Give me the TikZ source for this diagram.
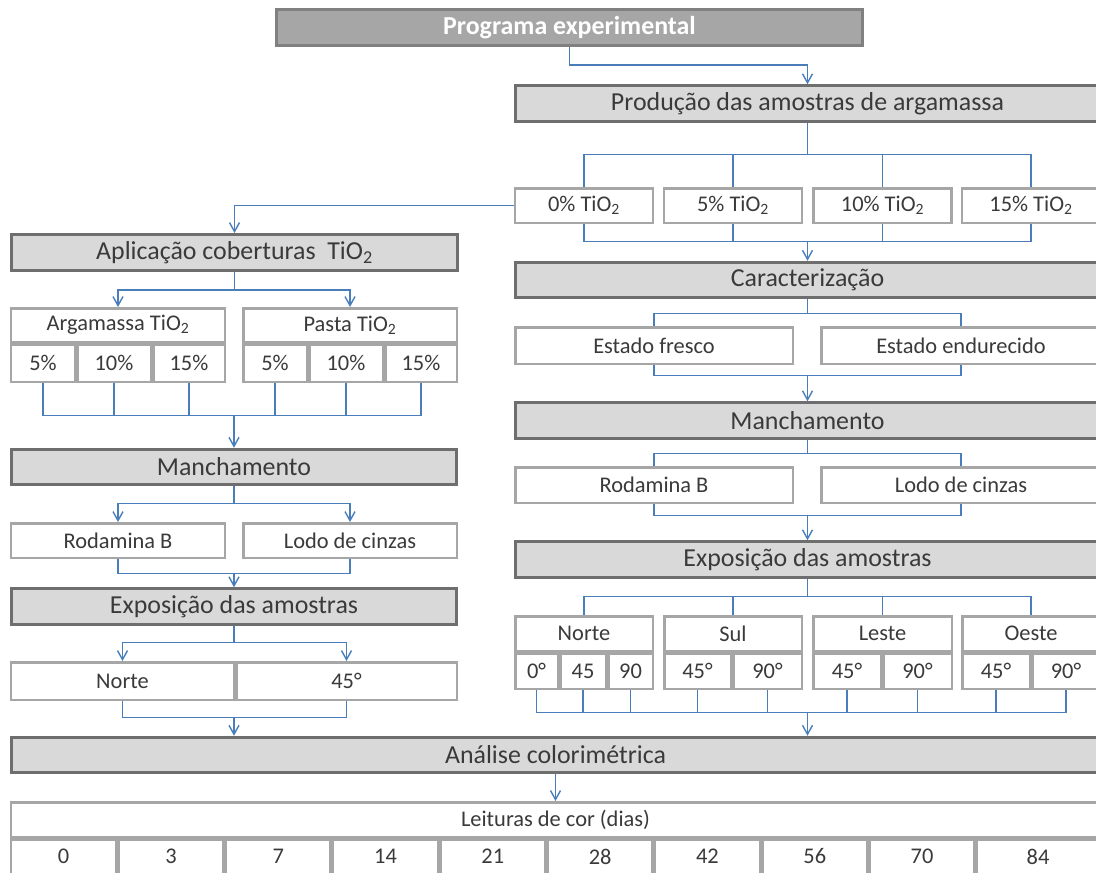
\documentclass[tikz,border=0pt]{standalone}
\usepackage{fontspec}
\setmainfont{Carlito}
\usepackage{tikz}
\usetikzlibrary{arrows.meta}
\definecolor{titlefill}{HTML}{A6A6A6}
\definecolor{titleline}{HTML}{808080}
\definecolor{stagefill}{HTML}{D9D9D9}
\definecolor{stageline}{HTML}{6E6E6E}
\definecolor{itemline}{HTML}{A6A6A6}
\definecolor{linkblue}{HTML}{4A7EBB}
\definecolor{textgrey}{HTML}{3A3A3A}
\tikzset{
  title/.style={draw=titleline, fill=titlefill, line width=3bp, text=white,
    font=\bfseries\fontsize{26}{31}\selectfont, inner sep=0pt, minimum height=36bp},
  stage/.style={draw=stageline, fill=stagefill, line width=3bp, text=textgrey,
    font=\fontsize{26}{31}\selectfont, inner sep=0pt, minimum height=35.5bp},
  item/.style={draw=itemline, fill=white, line width=2.5bp, text=textgrey,
    font=\fontsize{22.5}{27}\selectfont, inner sep=0pt},
  link/.style={draw=linkblue, line width=1.1bp},
  flow/.style={line width=1.4bp, -{Straight Barb[length=9bp,width=10bp]}}
}

\begin{document}
\begin{tikzpicture}[x=1bp, y=-1bp]
\useasboundingbox (0,0) rectangle (1096,873);

% top
\node[title, minimum width=586bp] (prog) at (569.5,27.5) {Programa experimental};

% right column
\node[stage, minimum width=584bp] (prod) at (807.5,103.5) {Produção das amostras de argamassa};
\node[item, minimum width=138bp, minimum height=34.5bp] (p0) at (584,205.5) {0\% TiO\textsubscript{2}};
\node[item, minimum width=138bp, minimum height=34.5bp] (p5) at (733,205.5) {5\% TiO\textsubscript{2}};
\node[item, minimum width=138bp, minimum height=34.5bp] (p10) at (882.5,205.5) {10\% TiO\textsubscript{2}};
\node[item, minimum width=138bp, minimum height=34.5bp] (p15) at (1031,205.5) {15\% TiO\textsubscript{2}};
\node[stage, minimum width=584bp] (carac) at (807.5,280) {Caracterização};
\node[item, minimum width=277.5bp, minimum height=36.5bp] (fres) at (654,345.5) {Estado fresco};
\node[item, minimum width=279.5bp, minimum height=36.5bp] (endu) at (961,345.5) {Estado endurecido};
\node[stage, minimum width=584bp] (manR) at (807.5,420.5) {Manchamento};
\node[item, minimum width=277.5bp, minimum height=35.5bp] (rodR) at (654,485) {Rodamina B};
\node[item, minimum width=279.5bp, minimum height=35.5bp] (lodR) at (961,485) {Lodo de cinzas};
\node[stage, minimum width=584bp] (expR) at (807.5,559.5) {Exposição das amostras};

\node[item, minimum width=137.5bp, minimum height=34.5bp] (norR) at (584,633.5) {Norte};
\node[item, minimum width=42.5bp, minimum height=35.5bp] (n0) at (536.5,671) {0°};
\node[item, minimum width=45.5bp, minimum height=35.5bp] (n45) at (583,671) {45};
\node[item, minimum width=44.5bp, minimum height=35.5bp] (n90) at (630.5,671) {90};
\node[item, minimum width=137.5bp, minimum height=34.5bp] (sulR) at (733,633.5) {Sul};
\node[item, minimum width=66.5bp, minimum height=35.5bp] (s45) at (697.5,671) {45°};
\node[item, minimum width=68.5bp, minimum height=35.5bp] (s90) at (767.5,671) {90°};
\node[item, minimum width=138.5bp, minimum height=34.5bp] (lesR) at (882.5,633.5) {Leste};
\node[item, minimum width=67.5bp, minimum height=35.5bp] (l45) at (847,671) {45°};
\node[item, minimum width=68.5bp, minimum height=35.5bp] (l90) at (917.5,671) {90°};
\node[item, minimum width=137.5bp, minimum height=34.5bp] (oesR) at (1031,633.5) {Oeste};
\node[item, minimum width=67.5bp, minimum height=35.5bp] (o45) at (996,671) {45°};
\node[item, minimum width=67.5bp, minimum height=35.5bp] (o90) at (1066,671) {90°};

% left column
\node[stage, minimum width=446bp, minimum height=36bp] (apl) at (234.5,252.5) {Aplicação coberturas~ TiO\textsubscript{2}};
\node[item, minimum width=213.5bp, minimum height=33.5bp] (argH) at (118,325) {Argamassa TiO\textsubscript{2}};
\node[item, minimum width=63.5bp, minimum height=37.5bp] (a5) at (43,363) {5\%};
\node[item, minimum width=73.5bp, minimum height=37.5bp] (a10) at (114,363) {10\%};
\node[item, minimum width=71.5bp, minimum height=37.5bp] (a15) at (189,363) {15\%};
\node[item, minimum width=213.5bp, minimum height=33.5bp] (pasH) at (350,325) {Pasta TiO\textsubscript{2}};
\node[item, minimum width=63.5bp, minimum height=37.5bp] (b5) at (275,363) {5\%};
\node[item, minimum width=73.5bp, minimum height=37.5bp] (b10) at (346,363) {10\%};
\node[item, minimum width=71.5bp, minimum height=37.5bp] (b15) at (421,363) {15\%};
\node[stage, minimum width=445.5bp] (manL) at (234,467) {Manchamento};
\node[item, minimum width=213.5bp, minimum height=34.5bp] (rodL) at (118,540.5) {Rodamina B};
\node[item, minimum width=213.5bp, minimum height=34.5bp] (lodL) at (350,540.5) {Lodo de cinzas};
\node[stage, minimum width=445.5bp] (expL) at (234,606.5) {Exposição das amostras};
\node[item, minimum width=222.5bp, minimum height=37.5bp] (norL) at (122.5,681) {Norte};
\node[item, minimum width=220.5bp, minimum height=37.5bp] (graL) at (346.5,681) {45°};

% bottom
\node[stage, minimum width=1088.5bp] (anal) at (555.5,755) {Análise colorimétrica};
\node[item, minimum width=1088.5bp, minimum height=34.5bp] (tab) at (555.5,819.5) {Leituras de cor (dias)};
\foreach \v [count=\i from 0] in {0,3,7,14,21,28,42,56,70}
  \node[item, minimum width=104.8bp, minimum height=34.5bp] (d\v) at ({63.65+107.3*\i},856.5) {\v};
\node[item, minimum width=123.5bp, minimum height=34.5bp] (d84) at (1038,856.5) {84};

% connectors, right
\draw[link, flow] (prog.south) -- ++(0,18) -| (prod.north);
\draw[link] (prod.south) -- ++(0,32) coordinate (jp);
\foreach \n in {p0,p5,p10,p15} \draw[link] (jp) -| (\n.north);
\path (carac.north) ++(0,-19) coordinate (jc);
\foreach \n in {p0,p5,p10,p15} \draw[link] (\n.south) |- (jc);
\draw[link, flow] (jc) -- (carac.north);
\draw[link] (carac.south) -- ++(0,14) coordinate (jk);
\foreach \n in {fres,endu} \draw[link] (jk) -| (\n.north);
\path (manR.north) ++(0,-26) coordinate (jf);
\foreach \n in {fres,endu} \draw[link] (\n.south) |- (jf);
\draw[link, flow] (jf) -- (manR.north);
\draw[link] (manR.south) -- ++(0,14) coordinate (jh);
\foreach \n in {rodR,lodR} \draw[link] (jh) -| (\n.north);
\path (expR.north) ++(0,-25) coordinate (jg);
\foreach \n in {rodR,lodR} \draw[link] (\n.south) |- (jg);
\draw[link, flow] (jg) -- (expR.north);
\draw[link] (expR.south) -- ++(0,18) coordinate (jx);
\foreach \n in {norR,sulR,lesR,oesR} \draw[link] (jx) -| (\n.north);
\path (expR.south |- anal.north) ++(0,-23) coordinate (jy);
\foreach \n in {n0,n45,n90,s45,s90,l45,l90,o45,o90} \draw[link] (\n.south) |- (jy);
\draw[link, flow] (jy) -- (expR.south |- anal.north);

% connectors, left
\draw[link, flow] (p0.west) -| (apl.north);
\draw[link] (apl.south) -- ++(0,18) coordinate (ja);
\foreach \n in {argH,pasH} \draw[link, flow] (ja) -| (\n.north);
\path (manL.north) ++(0,-32) coordinate (jm);
\foreach \n in {a5,a10,a15,b5,b10,b15} \draw[link] (\n.south) |- (jm);
\draw[link, flow] (jm) -- (manL.north);
\draw[link] (manL.south) -- ++(0,17) coordinate (jr);
\foreach \n in {rodL,lodL} \draw[link, flow] (jr) -| (\n.north);
\path (expL.north) ++(0,-14) coordinate (je);
\foreach \n in {rodL,lodL} \draw[link] (\n.south) |- (je);
\draw[link, flow] (je) -- (expL.north);
\draw[link] (expL.south) -- ++(0,17) coordinate (jn);
\foreach \n in {norL,graL} \draw[link, flow] (jn) -| (\n.north);
\path (expL.south |- anal.north) ++(0,-18) coordinate (jl);
\foreach \n in {norL,graL} \draw[link] (\n.south) |- (jl);
\draw[link, flow] (jl) -- (expL.south |- anal.north);

% to the readings
\draw[link, flow] (anal.south) -- (tab.north);
\end{tikzpicture}
\end{document}
